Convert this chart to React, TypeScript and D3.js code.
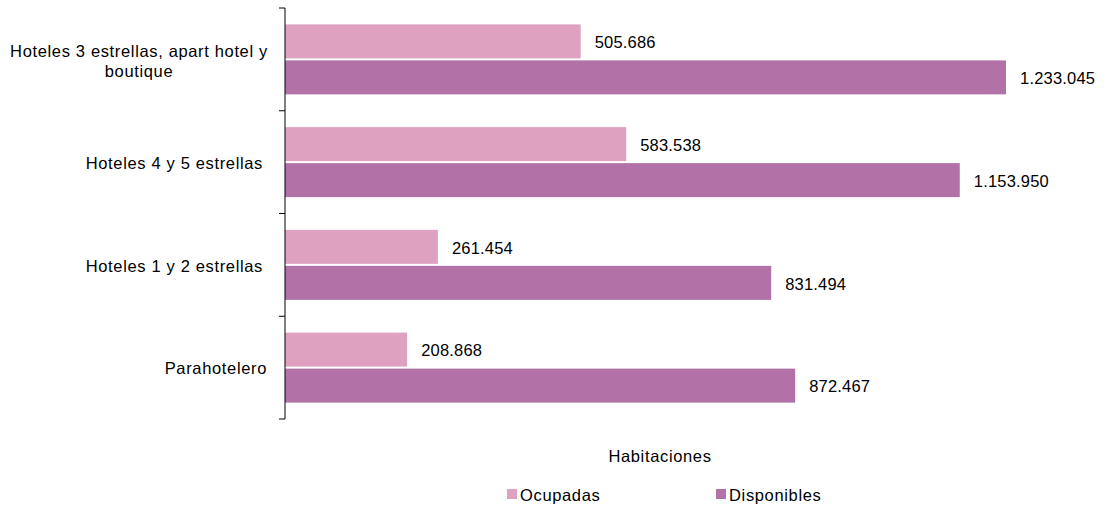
import React from "react";
import * as d3 from "d3";

const categories = [
  ["Hoteles 3 estrellas, apart hotel y", "boutique"],
  ["Hoteles 4 y 5 estrellas"],
  ["Hoteles 1 y 2 estrellas"],
  ["Parahotelero"],
];
const ocupadas = [505686, 583538, 261454, 208868];
const disponibles = [1233045, 1153950, 831494, 872467];
const seriesNames = ["Ocupadas", "Disponibles"];
const colors = ["#DEA2C0", "#B272A8"];
const axisTitle = "Habitaciones";

const fmt = (v: number) => d3.format(",")(v).replace(/,/g, ".");
const FONT = "'Liberation Sans', Arial, Helvetica, sans-serif";
const FS = 16.5;
const LS = 0.65;

export default function App() {
  const W = 1104, H = 506;
  const x0 = 285;
  const x = d3.scaleLinear().domain([0, 1233045]).range([x0, 1006]);
  const y = d3.scaleBand<number>().domain(d3.range(categories.length)).range([8, 419]).paddingInner(0).paddingOuter(0);
  const step = y.step();
  const barH = 34;
  const gap = 2;
  const series = [ocupadas, disponibles];
  const ticks = d3.range(categories.length + 1).map((i) => 8 + i * step);

  return (
    <svg width={W} height={H} style={{ position: "absolute", left: 0, top: 0 }} fontFamily={FONT}>
      <rect width={W} height={H} fill="#fff" />
      {categories.map((c, i) => {
        const center = (y(i) as number) + step / 2;
        return (
          <g key={i}>
            {series.map((s, k) => {
              const yt = center - barH - gap / 2 + k * (barH + gap);
              return (
                <g key={k}>
                  <rect x={x0} y={yt} width={x(s[i]) - x0} height={barH} fill={colors[k]} />
                  <text x={x(s[i]) + 14} y={yt + barH / 2 + 1} dy="0.35em" fontSize={FS} letterSpacing={0.2} fill="#000">
                    {fmt(s[i])}
                  </text>
                </g>
              );
            })}
            {c.length > 1 ? (
              c.map((line, j) => (
                <text key={j} x={139} y={center + 1.5 + (j - (c.length - 1) / 2) * 20} dy="0.35em" fontSize={FS} letterSpacing={LS} textAnchor="middle" fill="#000">
                  {line}
                </text>
              ))
            ) : (
              <text x={i === 3 ? 267 : 263} y={center + 1} dy="0.35em" fontSize={FS} letterSpacing={LS} textAnchor="end" fill="#000">
                {c[0]}
              </text>
            )}
          </g>
        );
      })}
      <line x1={x0} x2={x0} y1={8} y2={419} stroke="#000" strokeWidth={1} />
      {ticks.map((t, i) => (
        <line key={i} x1={x0 - 6} x2={x0} y1={t} y2={t} stroke="#000" strokeWidth={1} />
      ))}
      <text x={660} y={456} dy="0.35em" fontSize={FS} letterSpacing={LS} textAnchor="middle">{axisTitle}</text>
      {seriesNames.map((n, k) => (
        <g key={k}>
          <rect x={[507, 716][k]} y={489} width={10} height={10} fill={colors[k]} />
          <text x={[520, 729][k]} y={495} dy="0.35em" fontSize={FS} letterSpacing={LS}>{n}</text>
        </g>
      ))}
    </svg>
  );
}
